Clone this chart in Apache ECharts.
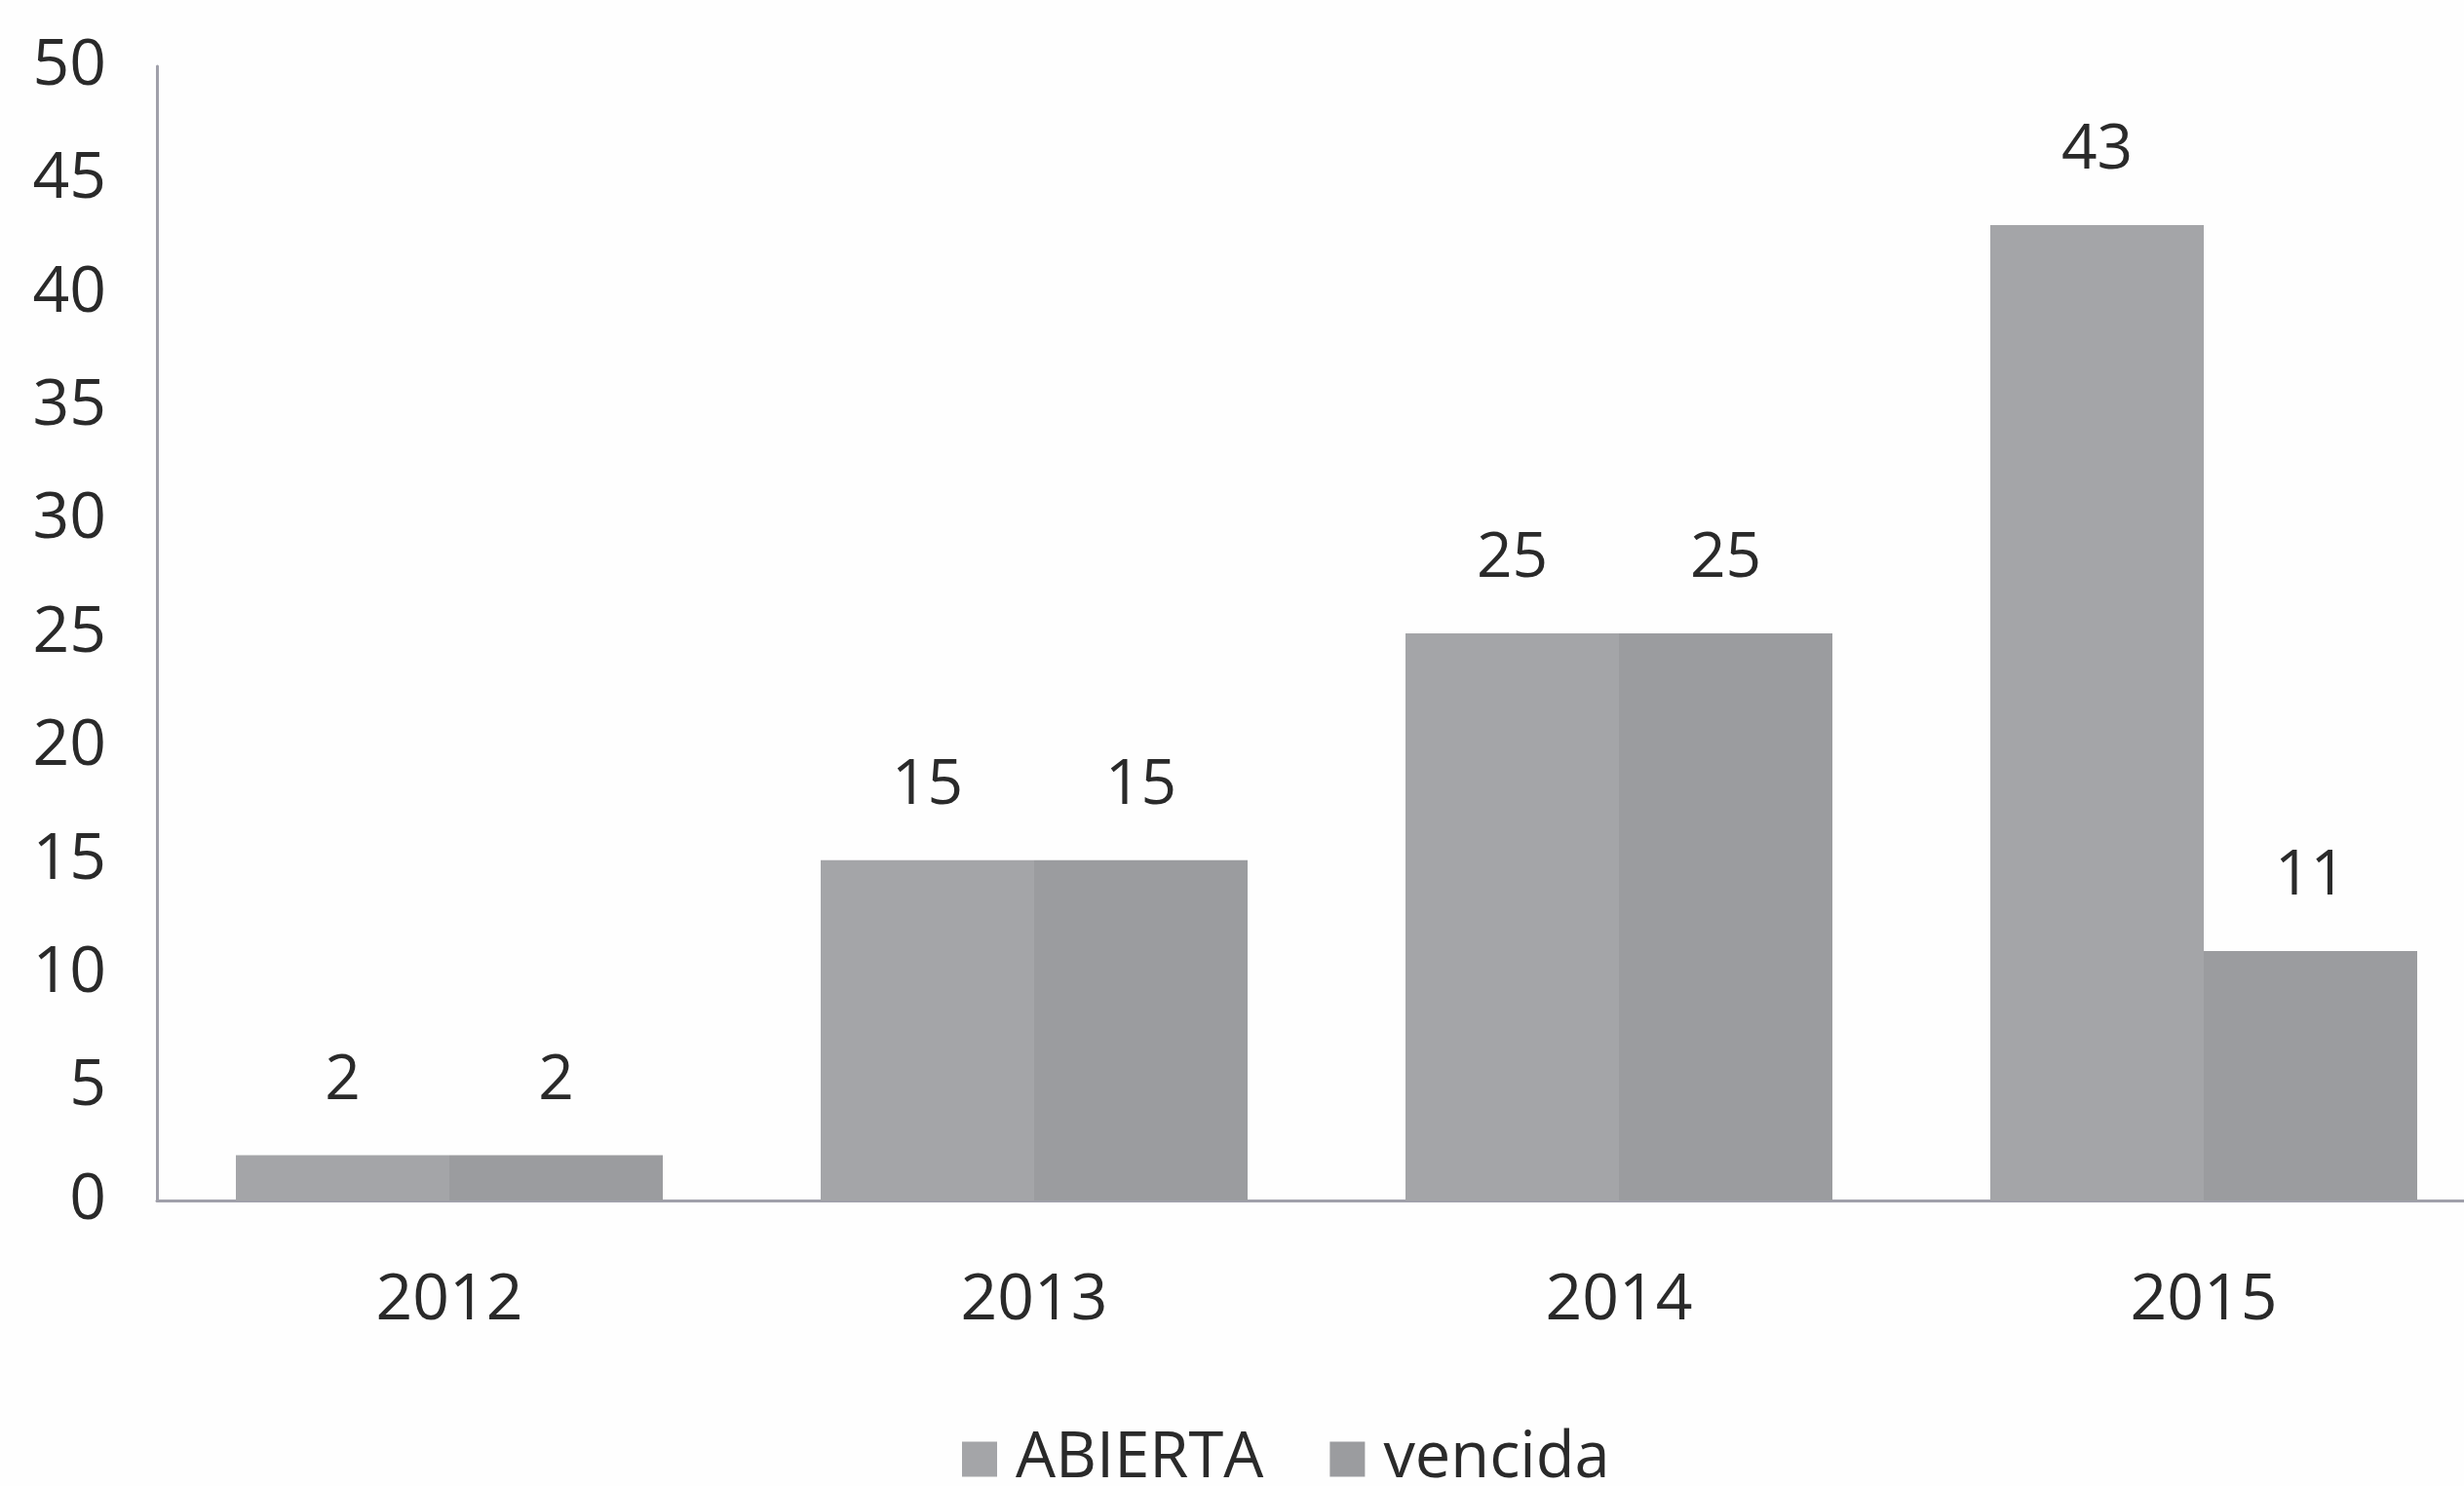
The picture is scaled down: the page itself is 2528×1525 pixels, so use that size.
<!DOCTYPE html>
<html><head><meta charset="utf-8">
<script src="https://cdn.jsdelivr.net/npm/echarts@6/dist/echarts.min.js"></script>
<style>html,body{margin:0;padding:0;background:#fefefe;overflow:hidden}#c{width:2570px;height:1525px}</style>
</head><body><div id="c"></div>
<script>
const categories = ['2012','2013','2014','2015'];
const abierta = [2, 15, 25, 43];
const vencida = [2, 15, 25, 11];
const yTicks = [0, 50, 5];

const font = '"Open Sans", "Liberation Sans", sans-serif';
const chart = echarts.init(document.getElementById('c'), null, {renderer:'canvas'});
const lbl = {show:true, position:'top', distance:44, color:'#2a2a2a', fontSize:64, fontFamily:font};
chart.setOption({
  animation:false,
  backgroundColor:'#fefefe',
  grid:{left:161, top:68, width:2400, height:1164},
  legend:{
    left:982, top:1460, itemWidth:36, itemHeight:36, itemGap:68,
    icon:'rect',
    textStyle:{fontSize:65, fontFamily:font, color:'#2a2a2a', padding:[0,0,0,14]},
    data:['ABIERTA','vencida']
  },
  xAxis:{
    type:'category', data:categories,
    axisLine:{lineStyle:{color:'#a0a0aa', width:3}},
    axisTick:{show:false},
    axisLabel:{fontSize:66, fontFamily:font, color:'#2a2a2a', margin:70}
  },
  yAxis:{
    type:'value', min:yTicks[0], max:yTicks[1], interval:yTicks[2],
    axisLine:{show:true, lineStyle:{color:'#a0a0aa', width:3}},
    axisTick:{show:false},
    splitLine:{show:false},
    axisLabel:{fontSize:66, fontFamily:font, color:'#2a2a2a', margin:52}
  },
  series:[
    {name:'ABIERTA', type:'bar', data:abierta, barGap:'0%', barCategoryGap:'27%',
     itemStyle:{color:'#a4a5a8'}, label:lbl},
    {name:'vencida', type:'bar', data:vencida,
     itemStyle:{color:'#9b9c9f'}, label:lbl}
  ]
});
</script></body></html>
